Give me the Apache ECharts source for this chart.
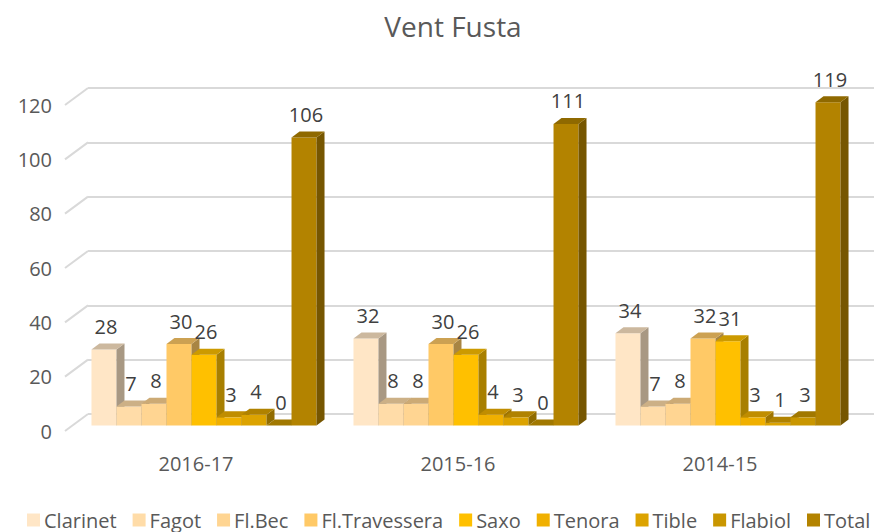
<!DOCTYPE html>
<html>
<head>
<meta charset="utf-8">
<script src="https://cdn.jsdelivr.net/npm/echarts@6/dist/echarts.min.js"></script>
<style>
html,body{margin:0;padding:0;background:#fff;}
#chart{width:879px;height:532px;}
</style>
</head>
<body>
<div id="chart"></div>
<script>
const categories = ['2016-17', '2015-16', '2014-15'];
const seriesNames = ['Clarinet', 'Fagot', 'Fl.Bec', 'Fl.Travessera', 'Saxo', 'Tenora', 'Tible', 'Flabiol', 'Total'];
const clarinet = [28, 32, 34];
const fagot = [7, 8, 7];
const flBec = [8, 8, 8];
const flTravessera = [30, 30, 32];
const saxo = [26, 26, 31];
const tenora = [3, 4, 3];
const tible = [4, 3, 1];
const flabiol = [0, 0, 3];
const total = [106, 111, 119];
const yTicks = [0, 20, 40, 60, 80, 100, 120];
const colors = ['#FFE6C6', '#FFDCA8', '#FFD592', '#FFC966', '#FFC000', '#F0B000', '#DCA300', '#C99600', '#B38300'];

const seriesValues = [clarinet, fagot, flBec, flTravessera, saxo, tenora, tible, flabiol, total];
const FONT = '"Open Sans", "Noto Sans", sans-serif';

function shade(hex, f) {
  const n = parseInt(hex.slice(1), 16);
  const r = Math.round(((n >> 16) & 255) * f);
  const g = Math.round(((n >> 8) & 255) * f);
  const b = Math.round((n & 255) * f);
  return 'rgb(' + r + ',' + g + ',' + b + ')';
}

// front plane offset relative to back wall, and bar depth
const FX = -15, FY = 11.5, DX = 8, DY = -6;
const GROUP_FRAC = 0.859;
const NS = seriesNames.length;

function barRenderer(si) {
  return function (params, api) {
    const cat = api.value(0);
    const v = api.value(1);
    const top = api.coord([cat, v]);
    const base = api.coord([cat, 0]);
    const band = api.size([1, 0])[0];
    const gw = band * GROUP_FRAC;
    const bw = gw / NS;
    const x0 = top[0] - gw / 2 + si * bw + FX;
    const x1 = x0 + bw;
    const yT = top[1] + FY;
    const yB = base[1] + FY;
    const col = colors[si];
    return {
      type: 'group',
      children: [
        { type: 'rect', shape: { x: x0, y: yT, width: bw, height: yB - yT }, style: { fill: col } },
        { type: 'polygon', shape: { points: [[x1, yT], [x1 + DX, yT + DY], [x1 + DX, yB + DY], [x1, yB]] }, style: { fill: shade(col, 0.66) } },
        { type: 'polygon', shape: { points: [[x0, yT], [x1, yT], [x1 + DX, yT + DY], [x0 + DX, yT + DY]] }, style: { fill: shade(col, 0.8) } },
        { type: 'text', z2: 10, style: { text: String(v), x: (x0 + x1) / 2 + 2, y: yT - 23, align: 'center', verticalAlign: 'middle', fontSize: 20, fontFamily: FONT, fill: '#404040' } }
      ]
    };
  };
}

const series = seriesNames.map(function (name, si) {
  return {
    name: name,
    type: 'custom',
    xAxisIndex: 0,
    yAxisIndex: 0,
    itemStyle: { color: colors[si] },
    renderItem: barRenderer(si),
    data: seriesValues[si].map(function (v, ci) { return [ci, v]; })
  };
});

// side wall diagonal grid lines
series.push({
  name: 'sidewall',
  type: 'custom',
  xAxisIndex: 0,
  yAxisIndex: 0,
  silent: true,
  z: 1,
  renderItem: function (params, api) {
    const p = api.coord([0, api.value(1)]);
    const band = api.size([1, 0])[0];
    const xL = p[0] - band / 2;
    return { type: 'line', shape: { x1: xL - 23, y1: p[1] + 17, x2: xL, y2: p[1] }, style: { stroke: '#d9d9d9', lineWidth: 2 } };
  },
  data: yTicks.map(function (v) { return [0, v]; })
});

const chart = echarts.init(document.getElementById('chart'), null, { renderer: 'svg' });
chart.setOption({
  animation: false,
  backgroundColor: '#ffffff',
  title: {
    text: 'Vent Fusta',
    left: 448,
    top: 7,
    textAlign: 'center',
    textStyle: { fontFamily: FONT, fontSize: 28, fontWeight: 'normal', color: '#595959' }
  },
  legend: {
    data: seriesNames,
    left: 27,
    top: 510,
    padding: 0,
    icon: 'rect',
    itemWidth: 13,
    itemHeight: 13,
    itemGap: 16,
    textStyle: { fontFamily: FONT, fontSize: 20, lineHeight: 20, color: '#595959', padding: [0, 0, 0, -1] }
  },
  grid: [
    { left: 88, right: 5, top: 88, bottom: 118 },
    { left: 65, right: 28, top: 105, bottom: 101 }
  ],
  xAxis: [
    { type: 'category', gridIndex: 0, data: categories, show: false },
    {
      type: 'category', gridIndex: 1, data: categories,
      axisLine: { show: false }, axisTick: { show: false },
      axisLabel: { fontFamily: FONT, fontSize: 20, color: '#595959', margin: 22 }
    }
  ],
  yAxis: [
    {
      type: 'value', gridIndex: 0, min: 0, max: 120, interval: 20,
      axisLabel: { show: false }, axisLine: { show: false }, axisTick: { show: false },
      splitLine: { lineStyle: { color: '#d9d9d9', width: 2 } }
    },
    {
      type: 'value', gridIndex: 1, min: 0, max: 120, interval: 20,
      axisLine: { show: false }, axisTick: { show: false }, splitLine: { show: false },
      axisLabel: { fontFamily: FONT, fontSize: 20, color: '#595959', margin: 13 }
    }
  ],
  series: series
});
</script>
</body>
</html>
